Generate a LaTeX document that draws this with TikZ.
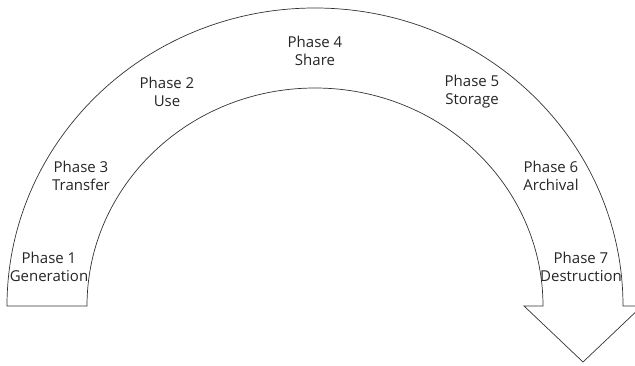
\documentclass[tikz,border=0pt]{standalone}
\usepackage{fontspec}
\setmainfont{Open Sans}
\usetikzlibrary{positioning}

\tikzset{
  phase/.style={align=center, inner sep=0pt, text=black!85,
    font=\fontsize{15}{18}\selectfont},
  band/.style={draw=black!80, line width=0.7pt, fill=white, line join=miter}
}

\begin{document}
\begin{tikzpicture}[x=1pt,y=1pt]
\path[use as bounding box, clip] (0,0) rectangle (635,365);
\draw[band] (7,59) arc (180:0:308 and 298) -- (642,59) -- (583,3)
  -- (524,59) -- (543,59) arc (0:180:228 and 218) -- cycle;
\foreach \name/\num/\x/\y/\txt in {p1/1/49/98.5/Generation,
  p3/3/81/189/Transfer, p2/2/167/273.5/Use, p4/4/315/314/Share,
  p5/5/472/273.5/Storage, p6/6/551/189/Archival, p7/7/581/98.5/Destruction}
  \node[phase] (\name) at (\x,\y) {Phase \num\\ \txt};
\end{tikzpicture}
\end{document}
